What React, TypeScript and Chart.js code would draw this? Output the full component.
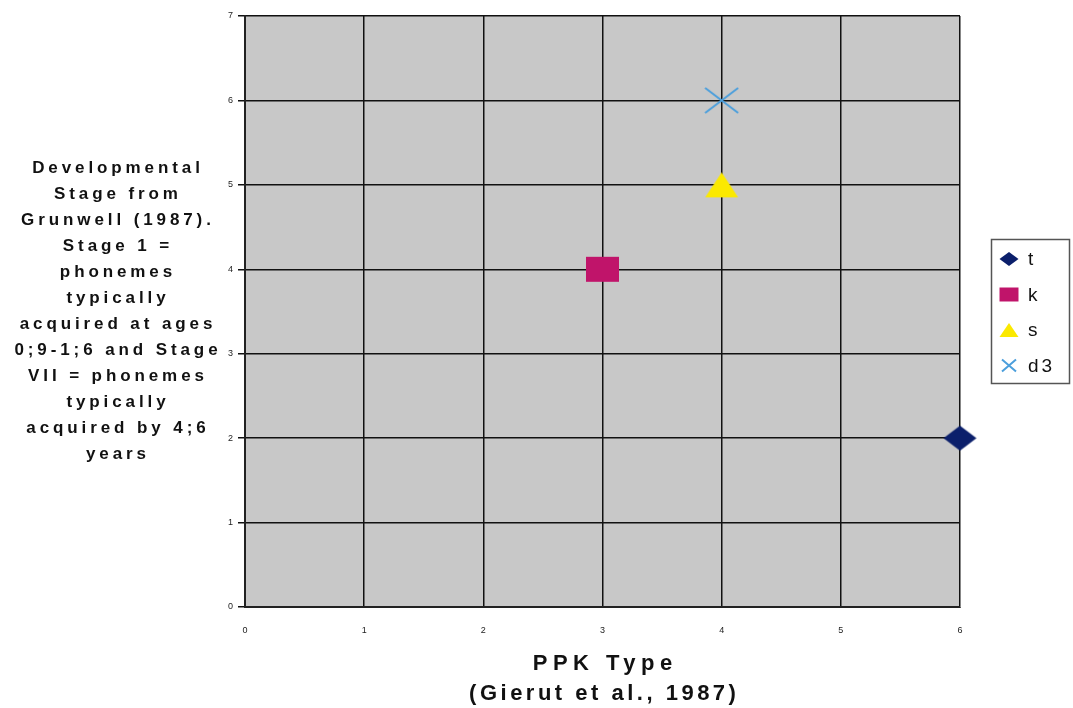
import React, { useEffect, useRef } from "react";
import { Chart, registerables } from "chart.js";

Chart.register(...registerables);

const seriesNames = ["t", "k", "s", "d3"];
const xValues = [6, 3, 4, 4];
const yValues = [2, 4, 5, 6];
const seriesColors = ["#0b1f6b", "#c0146a", "#fbe900", "#4c9fdc"];
const seriesShapes = ["diamond", "rect", "triangle", "cross"];
const xTicks = [0, 1, 2, 3, 4, 5, 6];
const yTicks = [0, 1, 2, 3, 4, 5, 6, 7];
const yTitleLines = [
  "Developmental",
  "Stage from",
  "Grunwell (1987).",
  "Stage 1 =",
  "phonemes",
  "typically",
  "acquired at ages",
  "0;9-1;6 and Stage",
  "VII = phonemes",
  "typically",
  "acquired by 4;6",
  "years",
];
const xTitleLines = ["PPK Type", "(Gierut et al., 1987)"];

function drawShape(ctx: CanvasRenderingContext2D, shape: string, color: string, cx: number, cy: number, w: number, h: number) {
  ctx.save();
  ctx.fillStyle = color;
  ctx.strokeStyle = color;
  ctx.beginPath();
  if (shape === "diamond") {
    ctx.moveTo(cx, cy - h / 2);
    ctx.lineTo(cx + w / 2, cy);
    ctx.lineTo(cx, cy + h / 2);
    ctx.lineTo(cx - w / 2, cy);
    ctx.closePath();
    ctx.fill();
  } else if (shape === "rect") {
    ctx.rect(cx - w / 2, cy - h / 2, w, h);
    ctx.fill();
  } else if (shape === "triangle") {
    ctx.moveTo(cx, cy - h / 2);
    ctx.lineTo(cx + w / 2, cy + h / 2);
    ctx.lineTo(cx - w / 2, cy + h / 2);
    ctx.closePath();
    ctx.fill();
  } else {
    ctx.lineWidth = 2;
    ctx.moveTo(cx - w / 2, cy - h / 2);
    ctx.lineTo(cx + w / 2, cy + h / 2);
    ctx.moveTo(cx + w / 2, cy - h / 2);
    ctx.lineTo(cx - w / 2, cy + h / 2);
    ctx.stroke();
  }
  ctx.restore();
}

function makeMarker(shape: string, color: string, w: number, h: number) {
  const c = document.createElement("canvas");
  c.width = w + 2;
  c.height = h + 2;
  const ctx = c.getContext("2d")!;
  drawShape(ctx, shape, color, (w + 2) / 2, (h + 2) / 2, w, h);
  return c;
}

function spacedText(ctx: CanvasRenderingContext2D, text: string, x: number, y: number, spacing: number) {
  const anyCtx = ctx as any;
  anyCtx.letterSpacing = spacing + "px";
  const w = ctx.measureText(text).width - spacing;
  ctx.textAlign = "left";
  ctx.fillText(text, x - w / 2, y);
  anyCtx.letterSpacing = "0px";
}

const decorPlugin = {
  id: "decor",
  beforeDraw(chart: any) {
    const { ctx, chartArea } = chart;
    ctx.save();
    ctx.fillStyle = "#c8c8c8";
    ctx.fillRect(chartArea.left, chartArea.top, chartArea.right - chartArea.left, chartArea.bottom - chartArea.top);
    ctx.restore();
  },
  afterDraw(chart: any) {
    const { ctx, chartArea } = chart;
    ctx.save();
    ctx.fillStyle = "#111";
    ctx.textBaseline = "middle";
    ctx.font = "bold 17px 'Liberation Sans', Arial, sans-serif";
    yTitleLines.forEach((line, i) => {
      spacedText(ctx, line, 116, 168 + i * 26, 3.9);
    });
    ctx.font = "bold 22px 'Liberation Sans', Arial, sans-serif";
    const cx = (chartArea.left + chartArea.right) / 2;
    const xSpacing = [5.5, 3.5];
    xTitleLines.forEach((line, i) => {
      spacedText(ctx, line, cx, 664 + i * 30, xSpacing[i]);
    });
    // legend
    ctx.strokeStyle = "#555";
    ctx.lineWidth = 1.5;
    ctx.strokeRect(991.5, 239.5, 78, 144);
    ctx.font = "19px 'Liberation Sans', Arial, sans-serif";
    seriesNames.forEach((name, i) => {
      const y = 259 + i * 35.5;
      const isCross = seriesShapes[i] === "cross";
      drawShape(ctx, seriesShapes[i], seriesColors[i], 1009, y, isCross ? 14 : 19, isCross ? 12 : 14);
      ctx.fillStyle = "#111";
      (ctx as any).letterSpacing = "3px";
      ctx.textAlign = "left";
      ctx.fillText(name, 1028, y + 1);
      (ctx as any).letterSpacing = "0px";
    });
    ctx.restore();
  },
};

export default function App() {
  const ref = useRef<HTMLCanvasElement>(null);
  useEffect(() => {
    if (!ref.current) return;
    const datasets = seriesNames.map((name, i) => ({
      label: name,
      data: [{ x: xValues[i], y: yValues[i] }],
      pointStyle: makeMarker(seriesShapes[i], seriesColors[i], 33, 25) as any,
      backgroundColor: seriesColors[i],
      borderColor: seriesColors[i],
      clip: false as any,
    }));
    const chart = new Chart(ref.current, {
      type: "scatter",
      data: { datasets },
      plugins: [decorPlugin],
      options: {
        animation: false,
        responsive: false,
        layout: { padding: { left: 0, right: 113, top: 16, bottom: 61 } },
        plugins: { legend: { display: false }, tooltip: { enabled: false } },
        scales: {
          x: {
            type: "linear",
            min: 0,
            max: 6,
            afterFit: (s: any) => { s.height = 40; },
            afterBuildTicks: (s: any) => { s.ticks = xTicks.map((v) => ({ value: v })); },
            ticks: { color: "#222", font: { size: 9, family: "'Liberation Sans', Arial" }, padding: 18 },
            grid: { color: "#111", lineWidth: 1.5, tickLength: 0 },
            border: { color: "#222", width: 2 },
          },
          y: {
            type: "linear",
            min: 0,
            max: 7,
            afterFit: (s: any) => { s.width = 245; },
            afterBuildTicks: (s: any) => { s.ticks = yTicks.map((v) => ({ value: v })); },
            ticks: { color: "#222", font: { size: 9, family: "'Liberation Sans', Arial" }, padding: 5 },
            grid: { color: "#111", lineWidth: 1.5, tickLength: 7 },
            border: { color: "#222", width: 2 },
          },
        },
      },
    });
    return () => chart.destroy();
  }, []);
  return (
    <div style={{ position: "absolute", left: 0, top: 0, width: 1073, height: 708, background: "#fff" }}>
      <canvas ref={ref} width={1073} height={708} style={{ width: 1073, height: 708 }} />
    </div>
  );
}
